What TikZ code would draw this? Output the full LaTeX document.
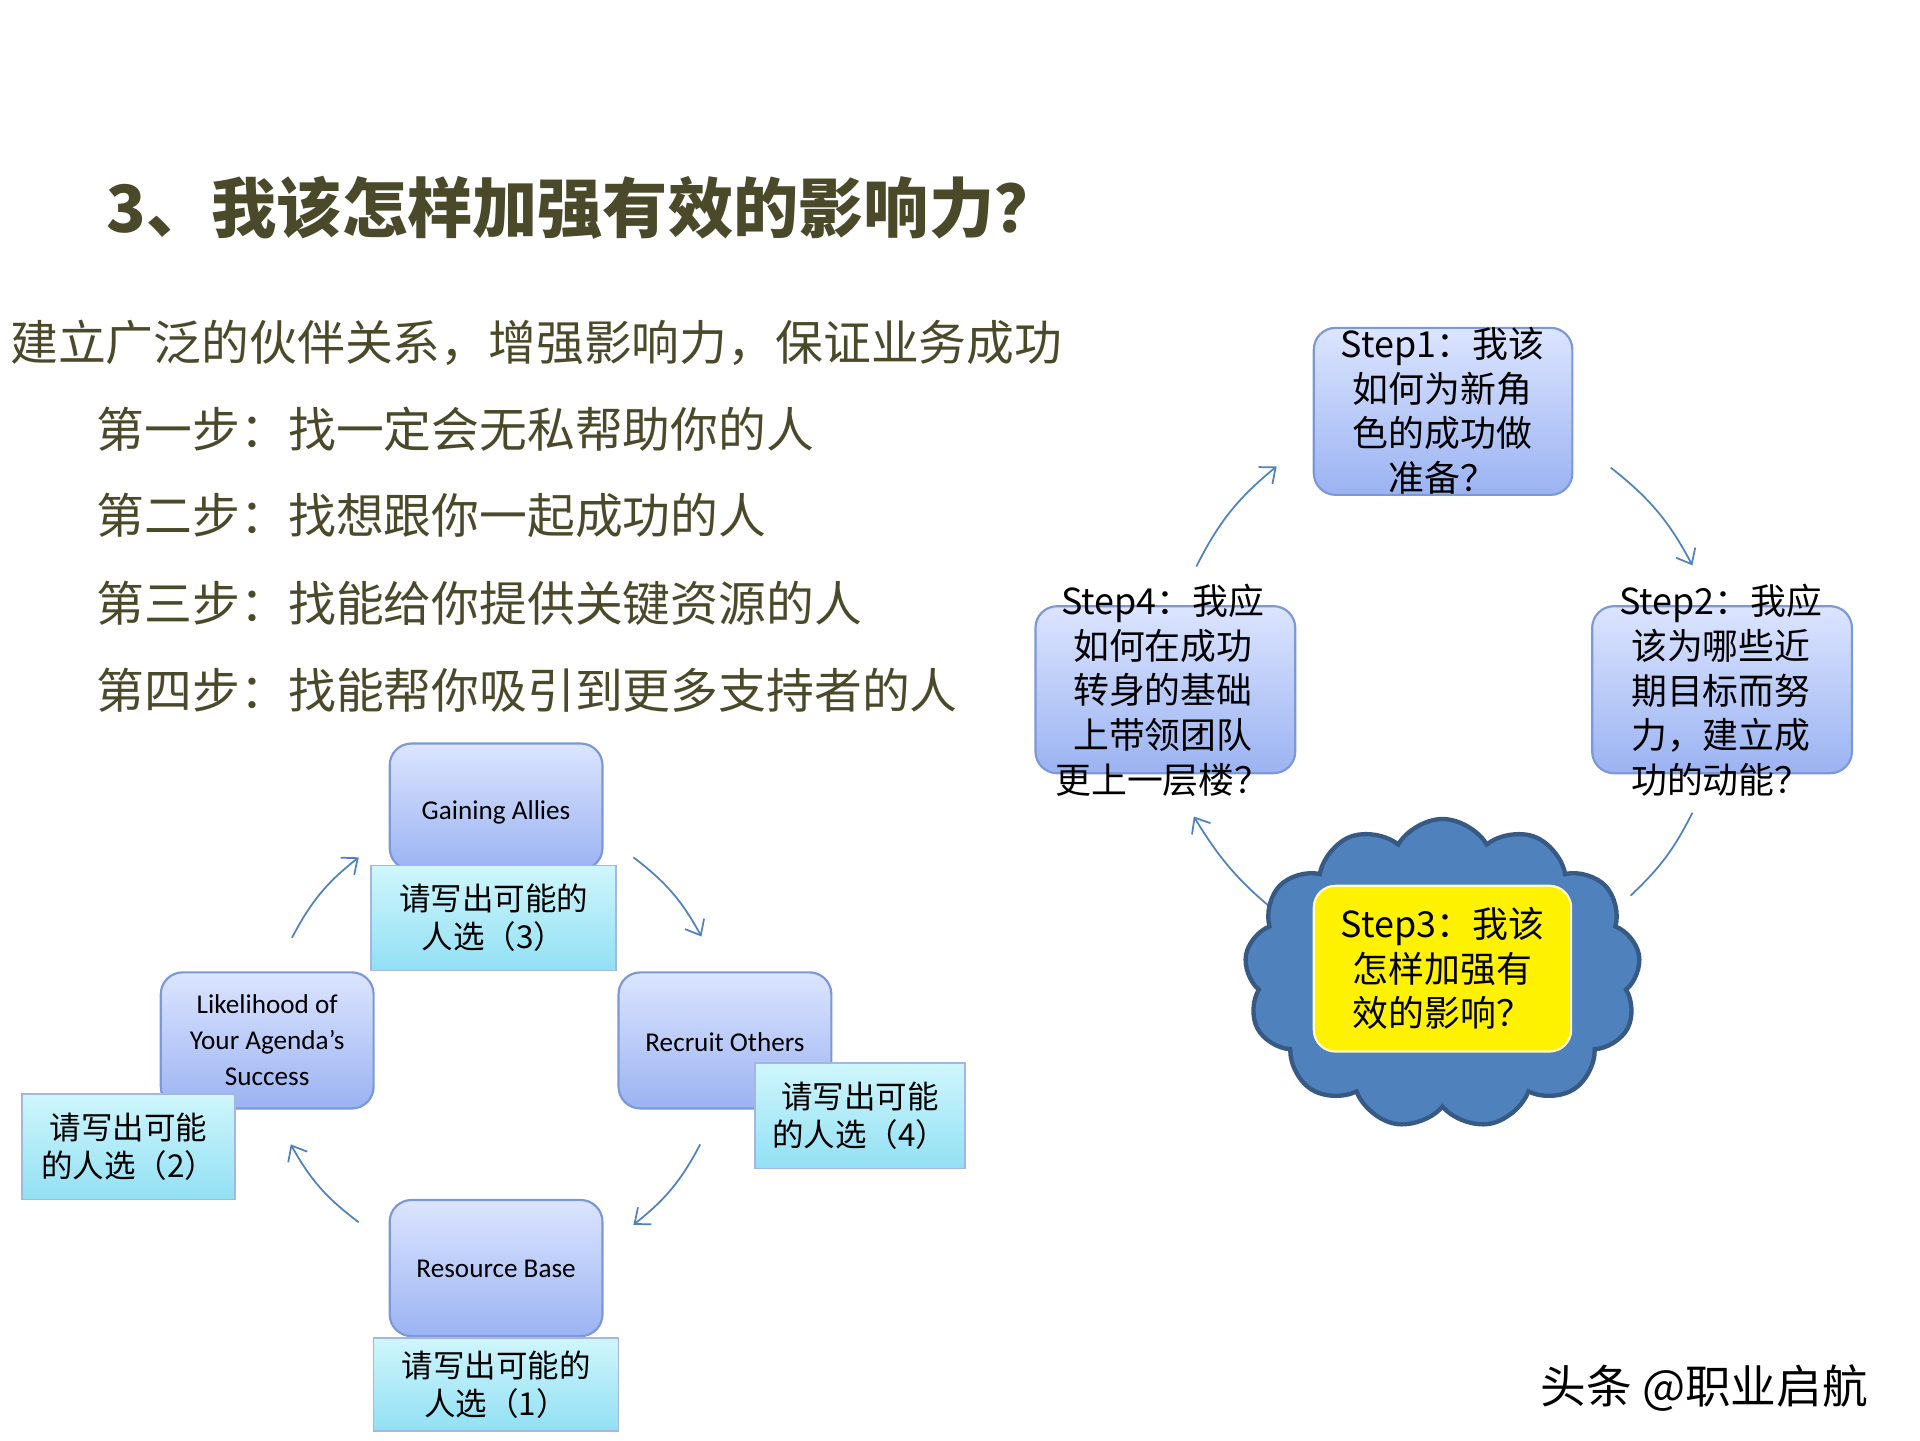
\documentclass[tikz,border=0pt]{standalone}
\usepackage{fontspec}
\setmainfont{Carlito}
\newfontfamily\cjk{Noto Sans CJK SC}
\usetikzlibrary{shapes.symbols,arrows.meta}
\definecolor{olive}{HTML}{4A4A2A}
\definecolor{bluetop}{HTML}{DCE5FF}
\definecolor{bluebot}{HTML}{9BB3F2}
\definecolor{blueline}{HTML}{7D98D6}
\definecolor{cyantop}{HTML}{CFF6FC}
\definecolor{cyanbot}{HTML}{92E0F4}
\definecolor{arrowc}{HTML}{4F81BD}
\tikzset{
  bluebox/.style={draw=blueline,line width=1pt,rounded corners=10pt,top color=bluetop,bottom color=bluebot},
  engtext/.style={align=center,font=\fontsize{12.5}{16.5}\selectfont},
  labbox/.style={draw=blueline!70,line width=0.8pt,top color=cyantop,bottom color=cyanbot,align=center,font=\cjk\fontsize{14.5}{17.5}\selectfont},
  stepbox/.style={draw=blueline,line width=1pt,rounded corners=10pt,top color=bluetop,bottom color=bluebot},
  steptext/.style={align=center,font=\cjk\fontsize{16.5}{20.5}\selectfont},
  carrow/.style={draw=arrowc,line width=0.8pt,-{Straight Barb[length=6pt,width=10pt]}},
  body/.style={anchor=west,text=olive,font=\cjk\fontsize{22}{26}\selectfont,inner sep=0}
}
\begin{document}
\begin{tikzpicture}[x=0.02cm,y=-0.02cm]
\useasboundingbox (0,0) rectangle (1552,1164);
\node[anchor=west,text=olive,inner sep=0,font=\cjk\bfseries\fontsize{30}{34}\selectfont] (title) at (86,168) {3、我该怎样加强有效的影响力？};
\node[body] (l0) at (8,277) {建立广泛的伙伴关系，增强影响力，保证业务成功};
\node[body] (l1) at (78,347) {第一步：找一定会无私帮助你的人};
\node[body] (l2) at (78,417) {第二步：找想跟你一起成功的人};
\node[body] (l3) at (78,488) {第三步：找能给你提供关键资源的人};
\node[body] (l4) at (78,558) {第四步：找能帮你吸引到更多支持者的人};

% left cycle
\draw[bluebox] (315,601) rectangle (487,703);
\node[engtext] (ga) at (401,657) {Gaining Allies};
\node[labbox,minimum width=198*0.02cm,minimum height=85*0.02cm] (la3) at (399,742) {请写出可能的\\人选（3）};
\draw[bluebox] (500,786) rectangle (672,896);
\node[engtext] (ro) at (586,842) {Recruit Others};
\node[labbox,minimum width=170*0.02cm,minimum height=85*0.02cm] (la4) at (695,902) {请写出可能\\的人选（4）};
\draw[bluebox] (315,970) rectangle (487,1080);
\node[engtext] (rb) at (401,1026) {Resource Base};
\node[labbox,minimum width=198*0.02cm,minimum height=75*0.02cm] (la1) at (401,1119) {请写出可能的\\人选（1）};
\draw[bluebox] (130,786) rectangle (302,896);
\node[engtext] (lk) at (216,841) {Likelihood of\\Your Agenda’s\\Success};
\node[labbox,minimum width=172*0.02cm,minimum height=85*0.02cm] (la2) at (104,927) {请写出可能\\的人选（2）};

\coordinate (a1s) at (236,758); \coordinate (a1e) at (290,693);
\coordinate (a2s) at (512,693); \coordinate (a2e) at (567,757);
\coordinate (a3s) at (566,925); \coordinate (a3e) at (512,990);
\coordinate (a4s) at (290,988); \coordinate (a4e) at (235,925);
\draw[carrow] (a1s) to[bend left=12] (a1e);
\draw[carrow] (a2s) to[bend left=12] (a2e);
\draw[carrow] (a3s) to[bend left=12] (a3e);
\draw[carrow] (a4s) to[bend left=12] (a4e);

% right cycle
\draw[stepbox] (1062,265) rectangle (1271,400);
\node[steptext] (s1) at (1166,332) {Step1：我该\\如何为新角\\色的成功做\\准备？};
\draw[stepbox] (1287,490) rectangle (1497,625);
\node[steptext] (s2) at (1391,558) {Step2：我应\\该为哪些近\\期目标而努\\力，建立成\\功的动能？};
\draw[stepbox] (837,490) rectangle (1047,625);
\node[steptext] (s4) at (940,558) {Step4：我应\\如何在成功\\转身的基础\\上带领团队\\更上一层楼？};

\coordinate (b1s) at (967,458); \coordinate (b1e) at (1032,377);
\coordinate (b2s) at (1302,378); \coordinate (b2e) at (1368,457);
\coordinate (b3s) at (1368,657); \coordinate (b3e) at (1318,724);
\coordinate (b4s) at (1035,740); \coordinate (b4e) at (965,660);
\draw[carrow] (b1s) to[bend left=12] (b1e);
\draw[carrow] (b2s) to[bend left=12] (b2e);
\draw[draw=arrowc,line width=0.8pt] (b3s) to[bend left=10] (b3e);
\draw[carrow] (b4s) to[bend left=10] (b4e);

\node[cloud,cloud puffs=13,cloud puff arc=120,aspect=1.3,draw=arrowc!70!black,line width=2pt,fill=arrowc,minimum width=320*0.02cm,minimum height=250*0.02cm] (cl) at (1166,787) {};
\draw[draw=white!80!yellow,line width=1pt,rounded corners=10pt,fill=yellow] (1062,716) rectangle (1270,850);
\node[steptext] (s3) at (1166,783) {Step3：我该\\怎样加强有\\效的影响？};

\node[anchor=west,inner sep=0,font=\cjk\fontsize{21}{24}\selectfont] (wm) at (1245,1122) {头条 @职业启航};
\end{tikzpicture}
\end{document}
